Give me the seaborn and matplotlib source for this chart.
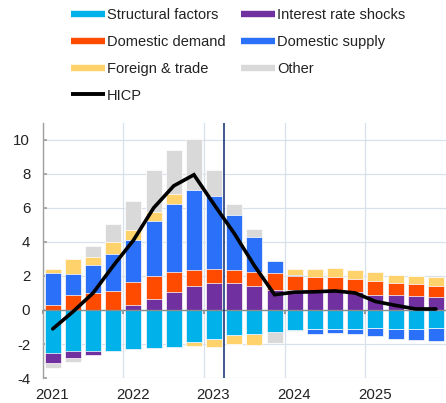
import numpy as np
import pandas as pd
import matplotlib
matplotlib.use("Agg")
import matplotlib.pyplot as plt
import seaborn as sns
from matplotlib.lines import Line2D

# ---------------- data ----------------
quarters = [f"{y}Q{q}" for y in range(2021, 2026) for q in range(1, 5)]
structural = [-2.54, -2.42, -2.42, -2.42, -2.28, -2.22, -2.15, -1.91, -1.70, -1.50,
              -1.40, -1.27, -1.19, -1.11, -1.11, -1.11, -1.07, -1.09, -1.09, -1.07]
interest = [-0.59, -0.43, -0.23, 0.00, 0.32, 0.67, 1.04, 1.39, 1.57, 1.57,
            1.39, 1.16, 1.16, 1.10, 1.10, 1.06, 0.90, 0.88, 0.84, 0.75]
dom_demand = [0.32, 0.90, 0.98, 1.12, 1.31, 1.33, 1.17, 0.96, 0.86, 0.76,
              0.82, 1.02, 0.82, 0.82, 0.82, 0.78, 0.78, 0.73, 0.71, 0.64]
dom_supply = [1.87, 1.23, 1.66, 2.17, 2.46, 3.24, 4.05, 4.71, 4.28, 3.27,
              2.09, 0.68, 0.10, -0.29, -0.27, -0.29, -0.47, -0.61, -0.66, -0.74]
foreign = [0.24, 0.88, 0.49, 0.71, 0.59, 0.51, 0.55, -0.22, -0.49, -0.51,
           -0.67, 0.00, 0.35, 0.51, 0.55, 0.51, 0.53, 0.45, 0.43, 0.53]
other = [-0.31, -0.21, 0.61, 1.07, 1.74, 2.48, 2.60, 3.01, 1.52, 0.62,
         0.47, -0.70, -0.06, 0.00, 0.00, 0.00, 0.00, 0.00, 0.00, 0.00]
hicp = [-1.11, -0.10, 1.00, 2.60, 4.10, 6.00, 7.30, 7.95, 6.20, 4.50,
        2.60, 0.90, 1.05, 1.07, 1.12, 1.00, 0.50, 0.27, 0.06, 0.06]
year_labels = ["2021", "2022", "2023", "2024", "2025"]
series_names = ["Structural factors", "Interest rate shocks", "Domestic demand",
                "Domestic supply", "Foreign & trade", "Other"]
series_values = [structural, interest, dom_demand, dom_supply, foreign, other]
series_colors = ["#00B1EA", "#7030A0", "#FF4B00", "#2B70F8", "#FFD26B", "#D9D9D9"]
projection_start = "2023Q2"

# ---------------- style ----------------
sns.set_theme(style="white")
plt.rcParams["font.family"] = ["Liberation Sans", "DejaVu Sans"]
plt.rcParams["axes.unicode_minus"] = False
FS = 10.8
LFS = 10.5

def qpos(q):
    return int(q[:4]) + (int(q[-1]) - 1) * 0.25 + 0.125

xq = np.array([qpos(q) for q in quarters])

fig = plt.figure(figsize=(4.46, 4.03), dpi=100)
ax = fig.add_axes([0.0957, 0.062, 0.9043, 0.633])

vals = np.array(series_values, dtype=float)
pos = np.clip(vals, 0, None)
neg = np.clip(vals, None, 0)
cum_pos = np.cumsum(pos, axis=0)
cum_neg = np.cumsum(neg, axis=0)

for cum in (cum_pos, cum_neg):
    for i in reversed(range(len(series_names))):
        if np.allclose(cum[i], 0):
            continue
        df = pd.DataFrame({"x": xq, "y": cum[i]})
        sns.barplot(data=df, x="x", y="y", native_scale=True, width=0.79,
                    color=series_colors[i], saturation=1, errorbar=None,
                    edgecolor="white", linewidth=0.5, ax=ax, zorder=2)

sns.lineplot(x=xq, y=hicp, color="black", linewidth=2.6, ax=ax, zorder=6,
             solid_joinstyle="miter")

ax.axhline(0, color="#8C8C8C", lw=1.0, zorder=4)
ax.axvline(int(projection_start[:4]) + (int(projection_start[-1]) - 1) * 0.25,
           color="#0B2A6B", lw=1.1, zorder=5)

ax.set_xlim(2021, 2026)
ax.set_ylim(-4, 11)
ax.set_xlabel("")
ax.set_ylabel("")
ax.set_yticks(range(-4, 11, 2))
ax.set_yticklabels([str(v) for v in range(-4, 11, 2)], fontsize=FS, color="#222222")
ax.set_xticks([int(y) for y in year_labels])
ax.set_xticklabels([])
ax.grid(True, color="#D8E0EB", lw=0.9, zorder=0)
ax.set_axisbelow(True)

for s in ("top", "right"):
    ax.spines[s].set_visible(False)
ax.spines["left"].set_color("#A0A0A0")
ax.spines["left"].set_linewidth(1.0)
ax.spines["bottom"].set_position(("data", 0))
ax.spines["bottom"].set_visible(False)
ax.tick_params(axis="y", direction="in", length=3, color="#A0A0A0", pad=9, left=True)
ax.tick_params(axis="x", direction="out", length=3, color="#8C8C8C", bottom=True,
               labelbottom=False)

sec = ax.secondary_xaxis("bottom")
sec.set_xticks([int(y) + 0.115 for y in year_labels])
sec.set_xticklabels(year_labels, fontsize=FS, color="#222222")
sec.tick_params(length=0, pad=7)
sec.spines["bottom"].set_visible(False)

# ---------------- legend ----------------
h = {n: Line2D([0], [0], color=c, lw=4.6, solid_capstyle="butt")
     for n, c in zip(series_names, series_colors)}
h["HICP"] = Line2D([0], [0], color="black", lw=2.8, solid_capstyle="butt")
order = ["Structural factors", "Domestic demand", "Foreign & trade", "HICP",
         "Interest rate shocks", "Domestic supply", "Other"]
fig.legend([h[o] for o in order], order, loc="upper left",
           bbox_to_anchor=(71 / 446, 1 - 8 / 403), ncol=2, frameon=False,
           fontsize=LFS, handlelength=2.3, handletextpad=0.15, columnspacing=1.1,
           labelspacing=0.88, borderpad=0, borderaxespad=0, labelcolor="#222222")

fig.savefig("out.png", dpi=100)
